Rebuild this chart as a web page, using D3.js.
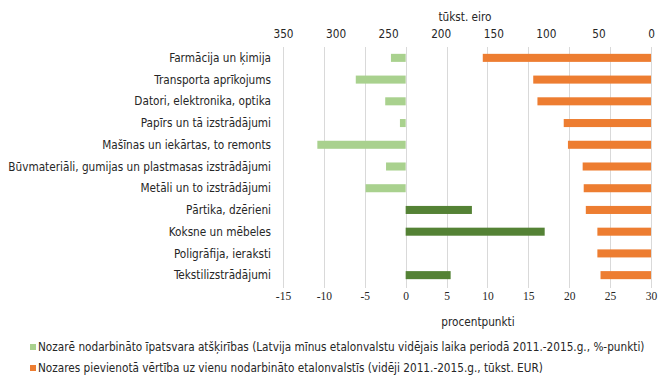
<!DOCTYPE html>
<html>
<head>
<meta charset="utf-8">
<script src="https://cdn.jsdelivr.net/npm/d3@7"></script>
<style>
  html, body { margin: 0; padding: 0; background: #fff; }
  svg { display: block; }
</style>
</head>
<body>
<svg id="chart" width="672" height="390"></svg>
<script>
const categories = [
  "Farmācija un ķimija",
  "Transporta aprīkojums",
  "Datori, elektronika, optika",
  "Papīrs un tā izstrādājumi",
  "Mašīnas un iekārtas, to remonts",
  "Būvmateriāli, gumijas un plastmasas izstrādājumi",
  "Metāli un to izstrādājumi",
  "Pārtika, dzērieni",
  "Koksne un mēbeles",
  "Poligrāfija, ieraksti",
  "Tekstilizstrādājumi"
];
const employmentShareDiff = [-1.8, -6.1, -2.5, -0.7, -10.8, -2.4, -4.9, 8.1, 17.0, 0, 5.5];
const valueAddedPerEmployee = [160, 112, 108, 83, 79, 65, 64, 62, 51, 51, 48];
const bottomTicks = [-15, -10, -5, 0, 5, 10, 15, 20, 25, 30];
const topTicks = [350, 300, 250, 200, 150, 100, 50, 0];
const legendLabels = [
  "Nozarē nodarbināto īpatsvara atšķirības (Latvija mīnus etalonvalstu vidējais laika periodā 2011.-2015.g., %-punkti)",
  "Nozares pievienotā vērtība uz vienu nodarbināto etalonvalstīs (vidēji 2011.-2015.g., tūkst. EUR)"
];
const topTitle = "tūkst. eiro";
const bottomTitle = "procentpunkti";

(function () {
const SANS = "Tahoma, 'DejaVu Sans Condensed', 'DejaVu Sans', sans-serif";
const SERIF = "'Times New Roman', 'Liberation Serif', serif";
const COL_NEG = "#A9D18E", COL_POS = "#548235", COL_ORANGE = "#ED7D31";
const TEXT = "#262626";

const svg = d3.select("#chart");
const pl = 283, pr = 651, pt = 47, pb = 286;

const x = d3.scaleLinear().domain([-15, 30]).range([pl, pr]);
const xTop = d3.scaleLinear().domain([350, 0]).range([pl, pr]);
const y = d3.scaleBand().domain(categories).range([pt, pb])
  .paddingInner(0.63).paddingOuter(0.315);

// fit sans font size so the long label matches reference width
const probe = svg.append("text").attr("font-family", SANS).attr("font-size", 11)
  .text("Būvmateriāli, gumijas un plastmasas izstrādājumi");
const w = probe.node().getComputedTextLength();
probe.remove();
const fs = Math.max(9.5, Math.min(12.5, 11 * 263 / w));

// gridlines
svg.append("g").selectAll("line").data(bottomTicks).join("line")
  .attr("x1", d => Math.round(x(d)) + 0.5).attr("x2", d => Math.round(x(d)) + 0.5)
  .attr("y1", pt).attr("y2", pb + 2)
  .attr("stroke", "#d9d9d9").attr("stroke-width", 1);

// green bars
svg.append("g").selectAll("rect").data(categories).join("rect")
  .attr("x", (d, i) => x(Math.min(0, employmentShareDiff[i])))
  .attr("width", (d, i) => Math.abs(x(employmentShareDiff[i]) - x(0)))
  .attr("y", d => y(d))
  .attr("height", y.bandwidth())
  .attr("fill", (d, i) => employmentShareDiff[i] < 0 ? COL_NEG : COL_POS);

// orange bars
svg.append("g").selectAll("rect").data(categories).join("rect")
  .attr("x", (d, i) => xTop(valueAddedPerEmployee[i]))
  .attr("width", (d, i) => xTop(0) - xTop(valueAddedPerEmployee[i]))
  .attr("y", d => y(d))
  .attr("height", y.bandwidth())
  .attr("fill", COL_ORANGE);

// category labels
svg.append("g").selectAll("text").data(categories).join("text")
  .attr("x", 271).attr("y", d => y(d) + y.bandwidth() / 2)
  .attr("dy", "0.35em").attr("text-anchor", "end")
  .attr("font-family", SANS).attr("font-size", fs).attr("fill", TEXT)
  .text(d => d);

// bottom axis
const gb = svg.append("g").attr("transform", `translate(0,${pb + 6})`)
  .call(d3.axisBottom(x).tickValues(bottomTicks).tickSize(0).tickPadding(0));
gb.select(".domain").remove();
gb.selectAll("text").attr("font-family", SERIF).attr("font-size", 11.5).attr("fill", TEXT)
  .text(d => String(d));

// top axis
const gt = svg.append("g").attr("transform", `translate(0,${pt - 9})`)
  .call(d3.axisTop(xTop).tickValues(topTicks).tickSize(0).tickPadding(0));
gt.select(".domain").remove();
gt.selectAll("text").attr("font-family", SANS).attr("font-size", fs).attr("fill", TEXT);

// axis titles
svg.append("text").attr("x", 465).attr("y", 21).attr("text-anchor", "middle")
  .attr("font-family", SANS).attr("font-size", fs).attr("fill", TEXT).text(topTitle);
svg.append("text").attr("x", 478).attr("y", 326).attr("text-anchor", "middle")
  .attr("font-family", SANS).attr("font-size", fs).attr("fill", TEXT).text(bottomTitle);

// legend
const legendColors = [COL_NEG, COL_ORANGE];
const lg = svg.append("g").selectAll("g").data(legendLabels).join("g")
  .attr("transform", (d, i) => `translate(30,${347 + i * 21})`);
lg.append("rect").attr("x", 0).attr("y", -3).attr("width", 6).attr("height", 6)
  .attr("fill", (d, i) => legendColors[i]);
lg.append("text").attr("x", 8).attr("y", 0).attr("dy", "0.35em")
  .attr("font-family", SANS).attr("font-size", fs).attr("fill", TEXT)
  .text(d => d);
})();
</script>
</body>
</html>
